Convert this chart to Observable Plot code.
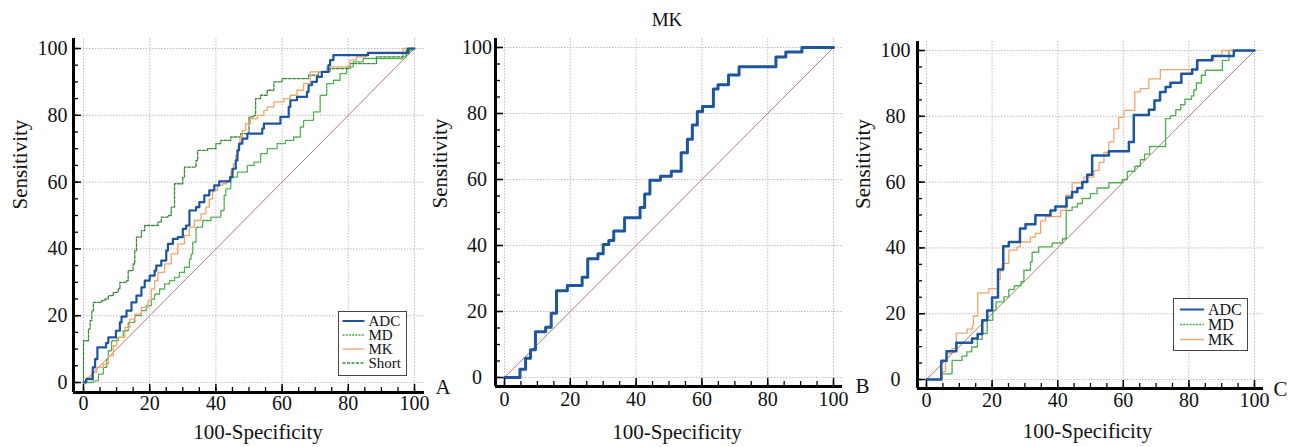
<!DOCTYPE html>
<html><head><meta charset="utf-8">
<script src="https://cdn.jsdelivr.net/npm/d3@7"></script>
<script src="https://cdn.jsdelivr.net/npm/@observablehq/plot@0.6"></script>
<style>
body{margin:0;background:#fff;}
#root{position:relative;width:1292px;height:447px;font-family:"Liberation Serif","Times New Roman",serif;overflow:hidden;}
#root svg text{font-family:"Liberation Serif","Times New Roman",serif !important;font-variant:normal !important;font-variant-numeric:normal !important;}
.panel{position:absolute;top:0;}
.legend{position:absolute;background:#fff;border:1.5px solid #444;box-sizing:border-box;color:#111;font-family:"Liberation Serif","Times New Roman",serif;}
.legend .row{display:flex;align-items:center;white-space:nowrap;overflow:visible;}
.legend svg{display:block;flex:none;}
.legend span{display:inline-block;}
</style></head><body><div id="root"></div><script>
// ---- tick values ----
const majorTicks = [0, 20, 40, 60, 80, 100];
const minorTicks = [0, 5, 10, 15, 20, 25, 30, 35, 40, 45, 50, 55, 60, 65, 70, 75, 80, 85, 90, 95, 100];
const diagonal = [0, 100];

// ---- Panel A: ROC curves [100-Specificity, Sensitivity] ----
const A_ADC = [[0,0],[0.8,1],[2.8,4.5],[3.5,7],[4.2,10.5],[6.8,11.8],[7.5,13.5],[9.8,15.5],[11,18],[11.5,19.7],[13,21.5],[14.5,24],[16,26],[17.5,28.5],[18.5,30.5],[20,32],[21.5,33.5],[22,35],[23.5,36.5],[25,39.5],[25.5,41.5],[27,43],[28.5,43.5],[30,46],[31,47],[32,51.5],[34,52.5],[35,54],[36.5,56],[38,57.5],[39.5,59],[41,60.2],[44.3,61.5],[45,64],[46,66.5],[46.5,69.5],[47,71.5],[48,73],[49.5,74.5],[54,76],[54.5,77.5],[59.5,79.5],[62,82.5],[62.5,84.5],[64.5,85.5],[67.5,87],[68,89],[69,90],[70.5,91.5],[72,93],[74,95],[74.5,96.5],[75.5,98],[86,98.7],[98,100],[100,100]];
const A_MD = [[0,0],[3,0.5],[4.5,2.5],[6,4.5],[7,7],[7.5,9.5],[8.5,12.5],[10.5,13.5],[12,15.5],[13.5,18],[15.5,20],[17.5,21.5],[19,23],[20.5,25],[21.5,26.5],[23,28],[24.5,29.5],[26,30.5],[27.5,31.5],[29,33],[30.5,34.5],[32,37],[32.5,38.5],[33,42],[34,46.5],[36,48.5],[38.5,49.5],[41.5,51.5],[42.5,56],[43,58],[44.5,61.5],[46.5,63],[49.5,65],[51.5,66],[53.5,68.5],[55.5,70],[58.5,71.5],[61,72.5],[63.5,73.5],[65.5,76.5],[66.5,78.5],[69.5,81],[71.5,86],[73.5,89.5],[75.5,90.5],[77.5,92.5],[79.5,94.5],[81.5,96],[84.5,97],[96.5,98.5],[98.5,100],[100,100]];
const A_MK = [[0,0],[1,1.5],[2.5,3],[4,4.5],[6,5.5],[7.5,8],[9,11],[10,13.5],[12.5,16.5],[14,19],[15.5,20.5],[17.5,22.5],[19.5,24.5],[20.5,28],[21.5,30.5],[22.5,33],[24.5,35.5],[26.5,38.5],[28.5,41.5],[30.5,44],[32,46.5],[33.5,48.5],[35.5,50.5],[37,52.5],[38,55],[39,57.5],[40.5,59],[42,59.5],[43.3,60.5],[44.5,63],[45.3,65.5],[46,68],[46.7,71],[47.3,73.5],[48,75.5],[49,77.5],[50.5,79],[52.5,80],[54.5,81.5],[55.5,82.5],[57.5,84],[60.5,85],[62.5,86],[64.5,87.5],[66.5,89.5],[68.5,93],[73.5,94.5],[80.5,96.5],[82.5,97.5],[85.5,98.5],[96.5,100],[100,100]];
const A_Short = [[0,0],[0,12.5],[1.5,16],[2,18.5],[2.5,21.5],[3,24],[5.5,24.5],[6.5,25],[7.5,26],[9,27],[10.5,28],[11,30],[13,30.5],[13.5,33.5],[15,35.5],[15.5,39.5],[16,43.5],[17.5,45.5],[18.5,47],[22.5,48],[23.5,49.5],[25.5,50],[26.5,52.5],[27.5,59.5],[30,61.5],[30.5,64.5],[34,66.5],[34.5,69.5],[37.5,70],[40,71.5],[41.5,72.5],[44.5,73.5],[47.5,74.5],[50,79.5],[51.5,80],[52,85],[53.5,86],[55.5,87.5],[57.5,90],[60,91],[68,92],[71,93],[74.5,94],[80.5,95.5],[88.5,97.5],[97.5,99.5],[99.5,100],[100,100]];

// ---- Panel B: MK ----
const B_MK = [[0,0],[4.7,2.5],[6.4,5.8],[7.9,8.4],[9.4,13.9],[12.5,15.2],[14.2,19.5],[15.8,26.3],[19.1,27.9],[23.6,30.4],[25.3,36],[28.4,37.5],[30,40.3],[31.7,41.5],[33.2,44.4],[36.5,48.4],[41.2,51.5],[42.6,55.6],[44.2,59.8],[47.4,61],[50.7,62.5],[53.7,68.1],[55.6,72.2],[57.1,76.5],[58.6,80.6],[60.2,82.1],[63.5,87.4],[64.9,88.7],[68.1,91.7],[71.3,94.2],[82.5,97.1],[85.5,98.6],[90.4,100],[100,100]];

// ---- Panel C ----
const C_ADC = [[0,0],[4.5,5.7],[6.1,8.6],[9.1,11.2],[13.9,12.5],[15.6,13.8],[17,18],[18.5,21],[20,24.9],[21.8,33.4],[23.4,40.5],[25.1,41.8],[28.5,45.9],[30.2,47.2],[33.2,49.9],[37.8,51.4],[39.3,52.6],[42.7,55.3],[44.4,57],[46,58.2],[47.5,60],[49,62.2],[50.5,68.1],[55.6,69.4],[61.7,72.2],[63.2,80.4],[67.8,82],[69.5,84.8],[71.2,87.4],[72.9,88.9],[74.4,90.2],[77.7,92.9],[81,94.2],[82.5,97],[87.1,98.3],[93.7,100],[100,100]];
const C_MD = [[0,0],[4.3,1.7],[7.8,5.8],[10.8,7.1],[12.3,8.4],[13.8,9.9],[15.5,12.2],[17,14],[18.5,18],[20.2,21],[21.2,23.6],[23.6,25.1],[25.1,27.4],[26.8,28.5],[28.8,29.7],[29.7,33.2],[31.7,35.7],[32.2,38.7],[34.2,40.3],[38.3,41.5],[41.5,42.8],[42.6,51.4],[44.4,52.4],[46,53.5],[47.5,55],[50,56.5],[52,58.2],[55.6,59.8],[59.7,60.8],[61.2,63.3],[63.5,64.8],[65.2,66.8],[66.5,68.5],[68,70.8],[72.9,79.3],[74.4,80.2],[76,82],[77.5,83.5],[78.8,85.2],[80.8,86.2],[81.5,88],[82.3,90.1],[83.8,92.5],[85,94],[90.2,97],[92.2,100],[100,100]];
const C_MK = [[0,0],[4.8,2.4],[5.8,5.4],[6.3,7.9],[7.8,9.4],[9.1,14.1],[12.4,15.3],[14,16.3],[14.3,19.3],[15.6,26.3],[19,27.6],[21.8,30.4],[22.5,33],[23.1,35.3],[25.1,39.3],[27.6,40.3],[28.6,41.8],[31.7,43.3],[33.2,44.4],[34.8,48.2],[36.3,49.5],[40.9,51.4],[42.5,56],[44.4,59.8],[48,61.5],[51,63.5],[52.6,66],[54.1,69],[55.6,72.2],[57.1,76.2],[58.6,79.7],[60.2,81.8],[63.5,87.4],[65.2,88.4],[67.8,91.4],[71.3,94.2],[82.8,97],[87.6,98.5],[90.1,100],[100,100]];

const legendA = ["ADC", "MD", "MK", "Short"];
const legendC = ["ADC", "MD", "MK"];

// ---- styles ----
const STY = {
  ADC:   {stroke: "#1d559f", strokeWidth: 2.2, dash: null},
  MD:    {stroke: "#47ad47", strokeWidth: 1.3, dash: "2,1.2"},
  MK:    {stroke: "#f2a56b", strokeWidth: 1.3, dash: null},
  Short: {stroke: "#3a8a3a", strokeWidth: 1.3, dash: "3,1.5"}
};
const FONT = "Liberation Serif, Times New Roman, serif";

function panel(cfg) {
  const fw = cfg.width - cfg.ml - cfg.mr, fh = cfg.height - cfg.mt - cfg.mb;
  const gridStyle = {stroke: "#a8a8a8", strokeOpacity: 0.75, strokeDasharray: "1.5,1.5", strokeWidth: 1};
  const marks = [
    Plot.gridX(majorTicks, {...gridStyle, insetBottom: cfg.ins - 3}),
    Plot.gridY(majorTicks, {...gridStyle, insetLeft: cfg.ins}),
    Plot.line(diagonal, {x: d => d, y: d => d, stroke: "#b07a72", strokeWidth: 1})
  ];
  for (const s of cfg.series) {
    marks.push(Plot.line(s.data, {x: d => d[0], y: d => d[1], curve: "step-after",
      stroke: s.stroke, strokeWidth: s.strokeWidth, strokeDasharray: s.dash || undefined}));
  }
  marks.push(
    Plot.ruleX(minorTicks, {x: d => d, insetTop: fh - 5, stroke: "#000", strokeWidth: 1.3}),
    Plot.ruleX(majorTicks, {x: d => d, insetTop: fh - 8, stroke: "#000", strokeWidth: 1.5}),
    Plot.ruleY(minorTicks, {y: d => d, insetRight: fw - 5, stroke: "#000", strokeWidth: 1.3}),
    Plot.ruleY(majorTicks, {y: d => d, insetRight: fw - 8, stroke: "#000", strokeWidth: 1.5}),
    Plot.ruleX([0], {dx: -cfg.ins, stroke: "#000", strokeWidth: 3}),
    Plot.ruleY([0], {dy: cfg.ins, stroke: "#000", strokeWidth: 3}),
    Plot.axisX({ticks: majorTicks, tickSize: 0, tickPadding: cfg.xpad, fontSize: 20, fontFamily: FONT, label: null, fill: "#111"}),
    Plot.axisY({ticks: majorTicks, tickSize: 0, tickPadding: cfg.ypad, textAnchor: cfg.yAnchor, fontSize: 20, fontFamily: FONT, label: null, fill: "#111"}),
    Plot.text(["100-Specificity"], {text: d => d, frameAnchor: "bottom", dx: cfg.xlabDx, dy: cfg.xlabDy, fontSize: 21, fontFamily: FONT, lineAnchor: "middle", fill: "#111"}),
    Plot.text(["Sensitivity"], {text: d => d, frameAnchor: "left", rotate: -90, dx: cfg.ylabDx, dy: cfg.ylabDy, fontSize: 21, fontFamily: FONT, lineAnchor: "middle", fill: "#111"}),
    Plot.text([cfg.letter], {text: d => d, frameAnchor: "bottom-right", dx: cfg.letDx, dy: cfg.letDy, fontSize: 21, fontFamily: FONT, textAnchor: "start", lineAnchor: "middle", fill: "#111"})
  );
  if (cfg.title) {
    marks.push(Plot.text([cfg.title], {text: d => d, frameAnchor: "top", dx: cfg.titleDx, dy: cfg.titleDy, fontSize: 19, fontFamily: FONT, lineAnchor: "middle", fill: "#111"}));
  }
  const svg = Plot.plot({
    width: cfg.width, height: cfg.height,
    marginLeft: cfg.ml, marginRight: cfg.mr, marginTop: cfg.mt, marginBottom: cfg.mb,
    x: {domain: [0, 100], inset: cfg.ins},
    y: {domain: [0, 100], inset: cfg.ins},
    style: {fontFamily: FONT, fontSize: "20px", overflow: "visible", background: "transparent", color: "#111"},
    marks
  });
  const div = document.createElement("div");
  div.className = "panel";
  div.style.left = cfg.left + "px";
  div.appendChild(svg);
  document.getElementById("root").appendChild(div);
}

function legend(names, o) {
  const box = document.createElement("div");
  box.className = "legend";
  Object.assign(box.style, {left: o.left + "px", top: o.top + "px", width: o.w + "px", height: o.h + "px", paddingTop: o.pt + "px", fontSize: o.fs + "px"});
  for (const n of names) {
    const s = STY[n];
    const row = document.createElement("div");
    row.className = "row";
    row.style.height = o.rh + "px";
    row.style.lineHeight = o.rh + "px";
    const sw = o.lx2 + 4;
    row.innerHTML = `<svg width="${sw}" height="${o.rh}"><line x1="${o.lx1}" x2="${o.lx2}" y1="${o.rh/2}" y2="${o.rh/2}" stroke="${s.stroke}" stroke-width="${n === "ADC" ? 2 : 1.3}" ${s.dash ? `stroke-dasharray="${s.dash}"` : ""}/></svg><span style="height:${o.rh}px">${n}</span>`;
    box.appendChild(row);
  }
  document.getElementById("root").appendChild(box);
}

panel({left: 0, width: 430, height: 447, ml: 73, mr: 6, mt: 38, mb: 55, ins: 10,
  xpad: 3, ypad: 6, yAnchor: "end", xlabDx: 9, xlabDy: 40, ylabDx: -53, ylabDy: -6, letter: "A", letDx: 11, letDy: -5.7,
  series: [
    {data: A_MD, ...STY.MD}, {data: A_Short, ...STY.Short}, {data: A_MK, ...STY.MK}, {data: A_ADC, ...STY.ADC}
  ]});
panel({left: 430, width: 420, height: 447, ml: 65, mr: 8, mt: 38, mb: 61, ins: 9,
  xpad: 5, ypad: 18.5, yAnchor: "middle", xlabDx: 8, xlabDy: 46, ylabDx: -55, ylabDy: -4, letter: "B", letDx: 13, letDy: -0.7,
  title: "MK", titleDx: -2, titleDy: -19,
  series: [{data: B_MK, stroke: "#1d559f", strokeWidth: 3}]});
panel({left: 850, width: 442, height: 447, ml: 67, mr: 29, mt: 41, mb: 59, ins: 9,
  xpad: 4, ypad: 22, yAnchor: "middle", xlabDx: -3, xlabDy: 43, ylabDx: -54, ylabDy: -6, letter: "C", letDx: 10, letDy: 0.3,
  series: [
    {data: C_MD, ...STY.MD, strokeWidth: 1.4}, {data: C_MK, ...STY.MK}, {data: C_ADC, ...STY.ADC, strokeWidth: 2.5}
  ]});

legend(legendA, {left: 338, top: 311, w: 69, h: 65, pt: 2.2, fs: 15, rh: 14, lx1: 3.5, lx2: 25.5});
legend(legendC, {left: 1173, top: 298, w: 75, h: 53, pt: 3, fs: 16, rh: 15, lx1: 6, lx2: 30});
</script></body></html>
